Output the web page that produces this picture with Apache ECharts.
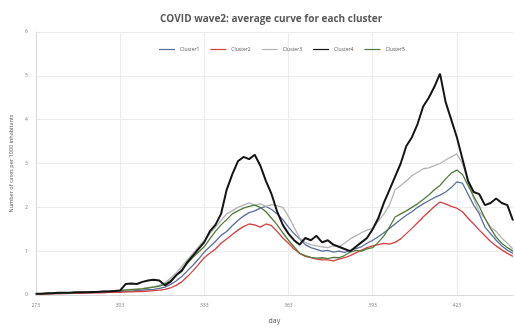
<!DOCTYPE html>
<html>
<head>
<meta charset="utf-8">
<script src="https://cdn.jsdelivr.net/npm/echarts@6/dist/echarts.min.js"></script>
<style>
  html, body { margin: 0; padding: 0; background: #fff; }
  #chart { width: 515px; height: 329px; }
</style>
</head>
<body>
<div id="chart"></div>
<script>
// Days sampled every second day, from day 273 to day 443
const days = [];
for (let d = 273; d <= 443; d += 2) days.push(String(d));

// Average number of cases per 1000 inhabitants, per cluster
const cluster1 = [
  0.02,0.02,0.03,0.03,0.03,0.04,0.04,0.04,0.05,0.05,0.05,0.06,0.06,0.07,0.07,0.08,
  0.08,0.09,0.10,0.11,0.12,0.13,0.15,0.18,
  0.24,0.32,0.42,0.55,0.68,0.82,0.98,
  1.10,1.22,1.36,1.45,1.58,1.70,1.80,
  1.88,1.92,1.98,2.02,1.95,1.85,1.72,
  1.55,1.40,1.28,1.15,1.08,1.04,1.00,
  1.02,0.98,1.00,0.97,1.02,1.06,1.10,
  1.18,1.25,1.33,1.42,1.52,1.62,1.72,
  1.82,1.90,2.00,2.08,2.15,2.22,2.28,
  2.35,2.45,2.58,2.55,2.30,2.05,1.85,
  1.55,1.40,1.25,1.12,1.02,0.95
];
const cluster2 = [
  0.02,0.02,0.02,0.03,0.03,0.03,0.04,0.04,0.04,0.05,0.05,0.05,0.05,0.06,0.06,0.06,
  0.07,0.07,0.08,0.08,0.09,0.10,0.11,0.13,
  0.16,0.22,0.30,0.42,0.55,0.70,0.85,
  0.95,1.05,1.18,1.28,1.38,1.48,1.56,
  1.62,1.60,1.55,1.62,1.58,1.45,1.30,
  1.18,1.05,0.95,0.88,0.85,0.82,0.80,
  0.80,0.78,0.82,0.85,0.90,0.96,1.02,
  1.08,1.12,1.15,1.18,1.16,1.20,1.28,
  1.40,1.52,1.65,1.78,1.90,2.02,2.12,
  2.08,2.02,1.98,1.90,1.75,1.62,1.48,
  1.35,1.22,1.12,1.03,0.95,0.88
];
const cluster3 = [
  0.03,0.03,0.04,0.04,0.05,0.05,0.05,0.06,0.06,0.07,0.07,0.08,0.08,0.09,0.10,0.11,
  0.12,0.13,0.14,0.15,0.17,0.19,0.22,0.28,
  0.38,0.50,0.65,0.80,0.95,1.10,1.25,
  1.40,1.55,1.70,1.85,1.92,2.00,2.05,
  2.10,2.05,2.08,2.02,2.06,2.04,2.00,
  1.80,1.55,1.30,1.20,1.15,1.12,1.10,
  1.08,1.12,1.10,1.18,1.28,1.35,1.42,
  1.48,1.52,1.68,1.85,2.05,2.40,2.50,
  2.60,2.72,2.80,2.88,2.90,2.95,3.00,
  3.08,3.15,3.22,3.00,2.60,2.20,1.90,
  1.75,1.55,1.45,1.30,1.18,1.05
];
const cluster4 = [
  0.03,0.03,0.04,0.04,0.05,0.05,0.05,0.06,0.06,0.06,0.07,0.07,0.08,0.08,0.09,0.10,
  0.25,0.26,0.25,0.30,0.33,0.35,0.33,0.22,
  0.30,0.45,0.55,0.75,0.90,1.05,1.20,
  1.45,1.60,1.85,2.40,2.75,3.05,3.15,
  3.10,3.20,2.95,2.60,2.30,1.90,1.60,
  1.40,1.25,1.15,1.30,1.25,1.35,1.20,
  1.25,1.15,1.10,1.05,1.00,1.10,1.20,
  1.30,1.50,1.75,2.10,2.40,2.70,3.00,
  3.40,3.60,3.90,4.30,4.50,4.75,5.05,
  4.40,4.00,3.60,3.10,2.60,2.35,2.30,
  2.05,2.10,2.20,2.10,2.05,1.70
];
const cluster5 = [
  0.03,0.03,0.03,0.04,0.04,0.05,0.05,0.05,0.06,0.06,0.07,0.07,0.08,0.08,0.09,0.10,
  0.11,0.12,0.13,0.14,0.16,0.18,0.20,0.25,
  0.33,0.45,0.58,0.72,0.86,0.98,1.10,
  1.28,1.45,1.60,1.72,1.85,1.92,1.98,
  2.02,2.05,2.00,1.90,1.75,1.60,1.42,
  1.25,1.10,0.95,0.90,0.86,0.84,0.85,
  0.83,0.86,0.85,0.90,0.98,1.02,1.00,
  1.05,1.08,1.20,1.35,1.55,1.78,1.85,
  1.92,2.00,2.08,2.18,2.28,2.40,2.50,
  2.65,2.78,2.85,2.75,2.50,2.25,2.02,
  1.75,1.52,1.32,1.18,1.08,1.00
];

const seriesNames = ['Cluster1', 'Cluster2', 'Cluster3', 'Cluster4', 'Cluster5'];
const seriesData = [cluster1, cluster2, cluster3, cluster4, cluster5];
const colors = ['#56709e', '#d8403f', '#b4b4b4', '#151515', '#527a3c'];
const widths = [1.3, 1.3, 1.3, 2, 1.3];

const chart = echarts.init(document.getElementById('chart'), null, { renderer: 'canvas' });
chart.setOption({
  animation: false,
  backgroundColor: '#ffffff',
  title: {
    text: 'COVID wave2: average curve for each cluster',
    left: 155,
    top: 9,
    textStyle: { fontFamily: 'Open Sans', fontSize: 10, fontWeight: 'bold', color: '#595959' }
  },
  legend: {
    top: 42,
    left: 154,
    icon: 'rect',
    itemWidth: 16,
    itemHeight: 1.2,
    itemGap: 11,
    textStyle: { fontFamily: 'Open Sans', fontSize: 5, color: '#595959' },
    data: seriesNames
  },
  grid: { left: 28, right: 2, top: 32, bottom: 30, containLabel: false },
  xAxis: {
    type: 'category',
    data: days,
    boundaryGap: false,
    name: 'day',
    nameLocation: 'middle',
    nameGap: 22,
    nameTextStyle: { fontFamily: 'Open Sans', fontSize: 7, color: '#595959' },
    axisLine: { lineStyle: { color: '#d9d9d9' } },
    axisTick: { show: false },
    axisLabel: { interval: 14, fontSize: 5, color: '#7f7f7f', margin: 8, fontFamily: 'Open Sans' },
    splitLine: { show: true, interval: 14, lineStyle: { color: '#ececec', width: 1 } }
  },
  yAxis: {
    type: 'value',
    min: 0,
    max: 6,
    interval: 1,
    name: 'Number of cases per 1000 inhabitants',
    nameLocation: 'middle',
    nameGap: 15,
    nameTextStyle: { fontFamily: 'Open Sans', fontSize: 5.5, color: '#595959' },
    axisLine: { show: true, lineStyle: { color: '#d9d9d9' } },
    axisTick: { show: false },
    axisLabel: { fontSize: 5, color: '#7f7f7f', margin: 8, fontFamily: 'Open Sans' },
    splitLine: { lineStyle: { color: '#ececec', width: 1 } }
  },
  series: seriesNames.map((name, k) => ({
    name: name,
    type: 'line',
    data: seriesData[k],
    showSymbol: false,
    symbol: 'none',
    smooth: false,
    z: k === 3 ? 5 : 2,
    itemStyle: { color: colors[k] },
    lineStyle: { color: colors[k], width: widths[k] }
  }))
});
</script>
</body>
</html>
